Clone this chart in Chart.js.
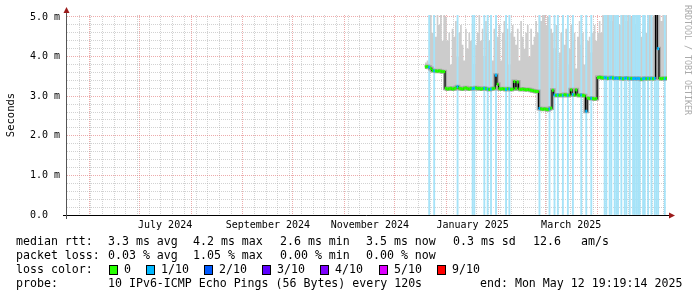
<!DOCTYPE html>
<html>
<head>
<meta charset="utf-8">
<script src="https://cdn.jsdelivr.net/npm/chart.js@4.4.1/dist/chart.umd.min.js"></script>
<style>
  html, body { margin: 0; padding: 0; background: #fff; }
  #wrap { width: 697px; height: 297px; }
</style>
</head>
<body>
<div id="wrap"><canvas id="plot" width="697" height="297"></canvas></div>
<script>
/* x values are days counted from 1 June 2024 00:00 */
const DAY0 = Date.UTC(2024, 5, 1);
const dayOf = (y, m, d) => (Date.UTC(y, m, d) - DAY0) / 86400000;

const xStart = -13.2;                                        // ~18 May 2024 19:19
const xEnd = dayOf(2025, 4, 12) + (19 * 60 + 19) / 1440;     // Mon May 12 19:19:14 2025
const firstDay = dayOf(2024, 11, 19);                        // first day with data
const Y_MAX = 5.05;

const monthLabels = ['July 2024', 'September 2024', 'November 2024', 'January 2025', 'March 2025'];
const monthLabelAt = [[2024, 6], [2024, 8], [2024, 10], [2025, 0], [2025, 2]];
const yLabels = ['0.0', '1.0 m', '2.0 m', '3.0 m', '4.0 m', '5.0 m'];

// median rtt per day (ms), from 19 Dec 2024 to 12 May 2025
const median = [
  3.74, 3.75, 3.73, 3.70,
  3.65, 3.64, 3.64, 3.63, 3.64, 3.63, 3.62, 3.62,
  3.20, 3.18, 3.19, 3.20, 3.18, 3.19, 3.21, 3.24, 3.20, 3.19,
  3.18, 3.20, 3.21, 3.19, 3.18, 3.20, 3.19, 3.20, 3.21, 3.19,
  3.20, 3.18, 3.19, 3.20, 3.19, 3.18, 3.17, 3.18, 3.19, 3.20,
  3.53, 3.30,
  3.19, 3.18, 3.19, 3.18, 3.17, 3.19, 3.18, 3.17, 3.18,
  3.37, 3.19, 3.36,
  3.18, 3.17, 3.18, 3.17, 3.16, 3.17, 3.16, 3.15, 3.14, 3.13, 3.12, 3.12,
  2.69, 2.68, 2.67, 2.68, 2.67, 2.66, 2.68, 2.70,
  3.15,
  3.03, 3.02, 3.03, 3.02, 3.03, 3.02, 3.04, 3.03, 3.02, 3.03,
  3.16, 3.04, 3.03, 3.16, 3.03, 3.02, 3.03, 3.02, 3.01, 2.62,
  2.95, 2.94, 2.95, 2.94, 2.93, 2.94, 3.47,
  3.48, 3.47, 3.46, 3.47, 3.46, 3.45, 3.46, 3.47, 3.46, 3.45,
  3.46, 3.45, 3.46, 3.45, 3.44, 3.45, 3.46, 3.45, 3.44, 3.45,
  3.44, 3.45, 3.44, 3.45, 3.44, 3.43, 3.44, 3.45, 3.44, 3.45,
  3.44, 3.45, 3.44, 3.45, 5.30, 4.20, 3.45, 3.44, 3.45, 3.44, 3.45
];
// slowest ping per day (ms), top of the smoke
const maxPing = [
  3.85, 3.90, 3.85,
  5.2, 4.6, 5.2, 4.5, 5.2, 4.8, 5.1, 4.4, 5.2,
  5.0, 4.4, 4.6, 3.8, 4.7, 4.5, 4.9, 4.0, 4.6, 4.8,
  4.3, 3.9, 4.7, 4.2, 4.6, 4.4, 4.8, 3.8, 4.3, 4.6,
  5.1, 4.4, 4.7, 4.0, 4.9, 4.6, 4.4, 4.8, 3.9, 4.7, 4.9,
  4.5, 4.8, 3.9, 4.6, 4.9, 4.4, 4.7, 3.8, 4.6, 4.8,
  4.5, 4.3, 4.7, 3.9, 4.9, 4.5, 4.2, 4.6, 4.8, 4.0,
  4.7, 4.3, 4.5, 4.9, 4.6,
  5.2, 4.9, 5.1, 5.2, 4.8, 5.0, 5.2, 4.7,
  4.6, 4.2, 4.8, 3.7, 4.1, 4.6, 5.1, 4.3, 4.7, 3.8,
  4.2, 4.8, 4.4, 4.6, 3.7, 4.5, 4.9, 4.3, 4.6, 3.8,
  4.7, 4.4, 4.5, 4.1, 4.6, 4.8, 4.4, 4.6,
  4.9, 4.6, 5.2, 5.0, 5.2, 5.1, 5.2, 4.9, 5.2, 5.2,
  5.0, 5.2, 4.8, 5.2, 5.1, 5.2, 4.9, 5.2, 5.2, 5.0,
  5.2, 4.8, 5.1, 5.2, 4.6, 4.5, 4.7, 5.0, 4.6, 4.8,
  5.2, 5.2, 5.0, 5.2, 5.4, 5.2, 5.2, 4.9, 5.2, 5.0, 5.2
];
// days (index into median) with 1/10 packet loss
const lossIdx = [2, 5, 19, 28, 29, 35, 37, 39, 42, 48, 50, 68, 74, 77, 79, 82, 85, 88, 93, 96, 99,
  107, 108, 110, 111, 113, 114, 115, 117, 119, 120, 122, 124, 125, 126, 127, 128,
  130, 131, 133, 135, 137, 138, 139, 143];

const lossColors = ['#26ff00', '#00b8ff', '#0059ff', '#5e00ff', '#7e00ff', '#dd00ff', '#ff0000'];
const lossNames = ['0', '1/10', '2/10', '3/10', '4/10', '5/10', '9/10'];
const lossKeyX = [109, 146, 204, 262, 320, 379, 437];

const rttStats = [['median rtt:', 16], ['3.3 ms avg', 108], ['4.2 ms max', 193], ['2.6 ms min', 280],
  ['3.5 ms now', 366], ['0.3 ms sd', 453], ['12.6', 533], ['am/s', 581]];
const lossStats = [['packet loss:', 16], ['0.03 % avg', 108], ['1.05 % max', 193], ['0.00 % min', 280],
  ['0.00 % now', 366]];
const probeText = [['probe:', 16], ['10 IPv6-ICMP Echo Pings (56 Bytes) every 120s', 108],
  ['end: Mon May 12 19:19:14 2025', 480]];

const MONO = "'DejaVu Sans Mono', monospace";

// loss count per day
const loss = median.map(() => 0);
lossIdx.forEach(i => { loss[i] = 1; });

// stepped series, last value held to the end of the graph
const steps = arr => {
  const pts = arr.map((v, i) => ({ x: firstDay + i, y: v }));
  pts.push({ x: xEnd, y: arr[arr.length - 1] });
  return pts;
};

// grid: weekly lines (Sundays) and month starts
const monthStarts = [];
for (let m = 0; m < 12; m++) monthStarts.push(dayOf(2024, 5 + m, 1));
const gridTicks = monthStarts.slice();
for (let d = dayOf(2024, 4, 26); d < xEnd; d += 7) {
  if (!monthStarts.includes(d)) gridTicks.push(d);
}
gridTicks.sort((a, b) => a - b);
const labelTicks = monthLabelAt.map(([y, m]) => (dayOf(y, m, 1) + dayOf(y, m + 1, 1)) / 2);
const yTicks = [];
for (let k = 0; k <= 25; k++) yTicks.push(k / 5);

const MINOR = 'rgba(165,165,165,0.5)';
const MAJOR = 'rgba(225,115,115,0.6)';

const rrdDecor = {
  id: 'rrdDecor',
  afterDraw(chart) {
    const ctx = chart.ctx;
    const a = chart.chartArea;
    ctx.save();
    // axes
    ctx.lineWidth = 1;
    ctx.strokeStyle = '#000';
    ctx.beginPath();
    ctx.moveTo(a.left - 4, a.bottom + 0.5);
    ctx.lineTo(a.right + 3, a.bottom + 0.5);
    ctx.stroke();
    ctx.strokeStyle = '#555';
    ctx.beginPath();
    ctx.moveTo(a.left - 0.5, a.bottom + 4);
    ctx.lineTo(a.left - 0.5, a.top - 3);
    ctx.stroke();
    // arrow heads
    ctx.fillStyle = '#9b1b1b';
    ctx.beginPath();
    ctx.moveTo(a.left - 0.5, a.top - 8);
    ctx.lineTo(a.left - 3.5, a.top - 2);
    ctx.lineTo(a.left + 2.5, a.top - 2);
    ctx.closePath();
    ctx.fill();
    ctx.beginPath();
    ctx.moveTo(a.right + 8, a.bottom + 0.5);
    ctx.lineTo(a.right + 2, a.bottom - 2.5);
    ctx.lineTo(a.right + 2, a.bottom + 3.5);
    ctx.closePath();
    ctx.fill();

    // legend
    ctx.fillStyle = '#000';
    ctx.font = '11.6px ' + MONO;
    ctx.textAlign = 'left';
    ctx.textBaseline = 'middle';
    rttStats.forEach(([t, x]) => ctx.fillText(t, x, 241.5));
    lossStats.forEach(([t, x]) => ctx.fillText(t, x, 255.5));
    ctx.fillText('loss color:', 16, 269.5);
    lossNames.forEach((t, i) => {
      const x = lossKeyX[i];
      ctx.fillStyle = lossColors[i];
      ctx.fillRect(x, 265, 8, 9);
      ctx.strokeStyle = '#000';
      ctx.strokeRect(x + 0.5, 265.5, 8, 9);
      ctx.fillStyle = '#000';
      ctx.fillText(t, x + 15, 269.5);
    });
    probeText.forEach(([t, x]) => ctx.fillText(t, x, 283.5));

    // watermark
    ctx.translate(687.5, 5);
    ctx.rotate(Math.PI / 2);
    ctx.fillStyle = '#aaaaaa';
    ctx.font = '8.3px ' + MONO;
    ctx.fillText('RRDTOOL / TOBI OETIKER', 0, 0);
    ctx.restore();
  }
};

new Chart(document.getElementById('plot'), {
  type: 'line',
  data: {
    datasets: [
      { // darker band around the median
        data: steps(median), stepped: true, order: 3, clip: 0,
        borderColor: '#a8a8a8', borderWidth: 4, pointRadius: 0, fill: false
      },
      { // smoke up to the slowest ping
        data: steps(maxPing), stepped: true, order: 5, clip: 0,
        borderWidth: 0, borderColor: 'rgba(0,0,0,0)', pointRadius: 0,
        backgroundColor: '#cccccc', fill: { target: 0 }
      },
      { // loss background
        type: 'bar', order: 4, clip: 0,
        data: lossIdx.map(i => ({ x: firstDay + i + 0.5, y: [0, Y_MAX] })),
        backgroundColor: '#a6e3f8', barThickness: 1.2, borderWidth: 0
      },
      { // median line
        data: steps(median), stepped: true, order: 2, clip: 0,
        borderColor: '#000', borderWidth: 1.2, pointRadius: 0, fill: false
      },
      { // median coloured by loss
        data: median.map((v, i) => ({ x: firstDay + i + 0.5, y: v })),
        order: 1, clip: 0, showLine: false,
        pointStyle: 'line', pointRadius: 1, pointBorderWidth: 3,
        pointBorderColor: c => lossColors[loss[c.dataIndex]] || lossColors[0]
      }
    ]
  },
  options: {
    responsive: false,
    animation: false,
    events: [],
    layout: { padding: { top: 15, right: 30, left: 0, bottom: 0 } },
    plugins: { legend: { display: false }, tooltip: { enabled: false } },
    scales: {
      x: {
        type: 'linear', position: 'bottom', min: xStart, max: xEnd, offset: false,
        afterBuildTicks: s => { s.ticks = gridTicks.map(v => ({ value: v })); },
        afterFit: s => { s.height = 0; },
        ticks: { display: false },
        grid: {
          drawTicks: false, lineWidth: 1, offset: false,
          color: c => (c.tick && monthStarts.includes(c.tick.value)) ? MAJOR : MINOR
        },
        border: { display: false, dash: [1, 1] }
      },
      xl: {
        type: 'linear', position: 'bottom', min: xStart, max: xEnd, offset: false,
        afterBuildTicks: s => { s.ticks = labelTicks.map(v => ({ value: v })); },
        afterFit: s => { s.height = 82; },
        ticks: {
          autoSkip: false, maxRotation: 0, padding: 4, color: '#000',
          font: { family: MONO, size: 10 },
          callback: (v, i) => monthLabels[i]
        },
        grid: { display: false, drawTicks: false, offset: false },
        border: { display: false }
      },
      y: {
        type: 'linear', min: 0, max: Y_MAX,
        afterBuildTicks: s => { s.ticks = yTicks.map(v => ({ value: v })); },
        afterFit: s => { s.width = 67; },
        ticks: {
          autoSkip: false, padding: 7, color: '#000',
          font: { family: MONO, size: 10 },
          callback: v => {
            const k = Math.round(v * 5);
            return k % 5 === 0 ? yLabels[k / 5].padEnd(5, ' ') : '';
          }
        },
        grid: {
          drawTicks: false, lineWidth: 1,
          color: c => (c.tick && Math.round(c.tick.value * 5) % 5 === 0) ? MAJOR : MINOR
        },
        border: { display: false, dash: [1, 1] },
        title: {
          display: true, text: 'Seconds', color: '#000',
          font: { family: MONO, size: 10.5 }, padding: { top: 5, bottom: 0 }
        }
      }
    }
  },
  plugins: [rrdDecor]
});
</script>
</body>
</html>
